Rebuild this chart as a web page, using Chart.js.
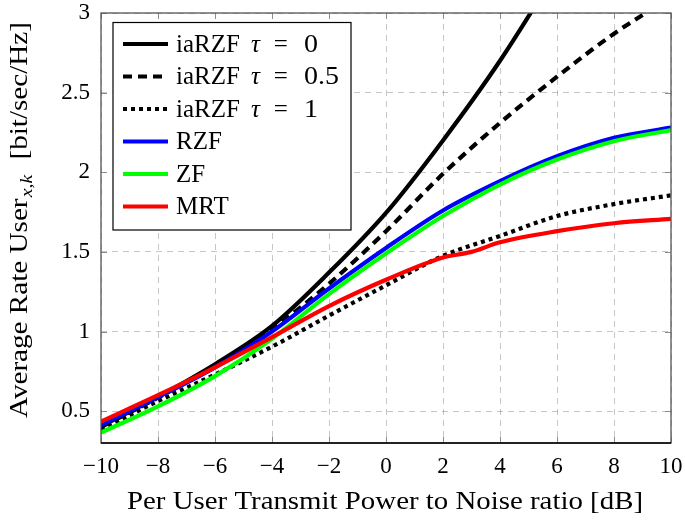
<!DOCTYPE html>
<html><head><meta charset="utf-8">
<script src="https://cdn.jsdelivr.net/npm/chart.js@4/dist/chart.umd.min.js"></script>
<style>html,body{margin:0;padding:0;background:#fff}#wrap{width:685px;height:523px}</style>
</head><body><div id="wrap"><canvas id="c" width="685" height="523"></canvas></div>
<script>
// ---- data ----
const snr = [-10, -8, -6, -4, -2, 0, 2, 4, 6, 8, 10];
const tau0 = [0.405, 0.59, 0.795, 1.035, 1.37, 1.745, 2.20, 2.70, 3.27, 3.88, 4.52];
const tau05 = [0.40, 0.585, 0.785, 1.015, 1.30, 1.63, 1.99, 2.31, 2.60, 2.87, 3.10];
const tau1 = [0.385, 0.563, 0.73, 0.905, 1.10, 1.29, 1.475, 1.60, 1.725, 1.80, 1.855];
const rzf = [0.413, 0.588, 0.775, 1.00, 1.27, 1.525, 1.76, 1.944, 2.10, 2.216, 2.28];
const zf = [0.365, 0.53, 0.72, 0.955, 1.235, 1.49, 1.725, 1.923, 2.08, 2.195, 2.265];
const mrtSnr = [-10, -8, -6, -4, -2, 0, 2, 3, 4, 6, 8, 10];
const mrt = [0.435, 0.60, 0.775, 0.965, 1.16, 1.325, 1.465, 1.50, 1.56, 1.63, 1.68, 1.707];
const seriesLabels = ['iaRZF τ = 0', 'iaRZF τ = 0.5', 'iaRZF τ = 1', 'RZF', 'ZF', 'MRT'];
const xTicks = [-10, -8, -6, -4, -2, 0, 2, 4, 6, 8, 10];
const yTicks = [0.5, 1, 1.5, 2, 2.5, 3];
const xTitle = 'Per User Transmit Power to Noise ratio [dB]';
const yTitleMain = 'Average Rate User';
const yTitleSub = 'x,k';
const yTitleUnit = '[bit/sec/Hz]';

const FONT = "'Liberation Serif', 'DejaVu Serif', serif";
const pts = (xs, ys) => xs.map((x, i) => ({x: x, y: ys[i]}));

const styles = [
  {color: '#000000', dash: []},
  {color: '#000000', dash: [9, 6]},
  {color: '#000000', dash: [4, 4]},
  {color: '#0000ff', dash: []},
  {color: '#00ff00', dash: []},
  {color: '#ff0000', dash: []}
];
const seriesData = [pts(snr, tau0), pts(snr, tau05), pts(snr, tau1), pts(snr, rzf), pts(snr, zf), pts(mrtSnr, mrt)];

const datasets = seriesData.map((d, i) => ({
  label: seriesLabels[i],
  data: d,
  borderColor: styles[i].color,
  backgroundColor: styles[i].color,
  borderDash: styles[i].dash,
  borderWidth: 4.2,
  pointRadius: 0,
  fill: false,
  cubicInterpolationMode: 'monotone',
  borderCapStyle: 'butt',
  order: 6 - i,
  clip: 0
}));

function fmtNum(v) {
  return v < 0 ? '\u2212' + Math.abs(v) : String(v);
}

const decor = {
  id: 'decor',
  afterDatasetsDraw(chart) {
    const ctx = chart.ctx;
    const a = chart.chartArea;
    const xs = chart.scales.x, ys = chart.scales.y;
    ctx.save();
    // inner tick marks
    ctx.strokeStyle = '#8c8c8c';
    ctx.lineWidth = 1;
    ctx.beginPath();
    xTicks.forEach(v => {
      const px = Math.round(xs.getPixelForValue(v)) + 0.5;
      ctx.moveTo(px, a.bottom); ctx.lineTo(px, a.bottom - 6);
      ctx.moveTo(px, a.top); ctx.lineTo(px, a.top + 6);
    });
    yTicks.forEach(v => {
      const py = Math.round(ys.getPixelForValue(v)) + 0.5;
      ctx.moveTo(a.left, py); ctx.lineTo(a.left + 6, py);
      ctx.moveTo(a.right, py); ctx.lineTo(a.right - 6, py);
    });
    ctx.stroke();
    // frame
    ctx.strokeStyle = '#555555';
    ctx.lineWidth = 1.3;
    ctx.strokeRect(a.left, a.top, a.right - a.left, a.bottom - a.top);
    ctx.strokeStyle = '#000000';
    ctx.beginPath(); ctx.moveTo(a.left, a.bottom); ctx.lineTo(a.right, a.bottom); ctx.stroke();

    // legend
    const lx = 113, ly = 22.5, lw = 238, lh = 207.5;
    ctx.fillStyle = '#ffffff';
    ctx.fillRect(lx, ly, lw, lh);
    ctx.strokeStyle = '#000000';
    ctx.lineWidth = 1.2;
    ctx.strokeRect(lx, ly, lw, lh);
    const rowY = [44, 76.5, 109, 141.5, 174, 206.5];
    chart.data.datasets.forEach((ds, i) => {
      const y = rowY[i];
      ctx.strokeStyle = ds.borderColor;
      ctx.lineWidth = 4.2;
      ctx.setLineDash(ds.borderDash);
      ctx.beginPath(); ctx.moveTo(123, y); ctx.lineTo(168, y); ctx.stroke();
      ctx.setLineDash([]);
      ctx.fillStyle = '#000';
      ctx.textBaseline = 'middle';
      ctx.textAlign = 'left';
      let x = 176;
      ds.label.split(' ').forEach(p => {
        ctx.font = (p === 'τ' ? 'italic ' : '') + '25px ' + FONT;
        const w = ctx.measureText(p).width;
        if (/^[0-9.]+$/.test(p)) {
          ctx.save(); ctx.translate(x, 0); ctx.scale(1.12, 1);
          ctx.fillText(p, 0, y + 1); ctx.restore();
        } else {
          ctx.fillText(p, x, y + 1);
        }
        x += w + (p === 'iaRZF' ? 11 : (p === 'τ' ? 14 : 16));
      });
    });

    // y title (stretched horizontally to the reference's width)
    ctx.save();
    ctx.translate(27, 220);
    ctx.rotate(-Math.PI / 2);
    ctx.fillStyle = '#000';
    ctx.textBaseline = 'alphabetic';
    ctx.textAlign = 'left';
    const fMain = '25px ' + FONT, fSub = 'italic 17px ' + FONT;
    ctx.font = fSub; const wSub = ctx.measureText(yTitleSub).width + 2;
    ctx.font = fMain;
    const wm = ctx.measureText(yTitleMain).width, wu = ctx.measureText(yTitleUnit).width;
    const gap = 12;
    const sx = 396 / (wm + wSub + gap + wu);
    ctx.translate(-198, 0);
    ctx.scale(sx, 1);
    ctx.fillText(yTitleMain, 0, 0);
    ctx.font = fSub; ctx.fillText(yTitleSub, wm + 1, 5);
    ctx.font = fMain; ctx.fillText(yTitleUnit, wm + wSub + gap, 0);
    ctx.restore();

    // x title (stretched horizontally to the reference's width)
    ctx.save();
    ctx.font = '25px ' + FONT;
    ctx.textAlign = 'left';
    ctx.textBaseline = 'alphabetic';
    ctx.fillStyle = '#000';
    const wx = ctx.measureText(xTitle).width;
    ctx.translate(127, 509);
    ctx.scale(516 / wx, 1);
    ctx.fillText(xTitle, 0, 0);
    ctx.restore();
    ctx.restore();
  }
};

new Chart(document.getElementById('c'), {
  type: 'line',
  data: {datasets: datasets},
  options: {
    responsive: false,
    animation: false,
    layout: {autoPadding: false, padding: {left: 0, right: 14, top: 13, bottom: 0}},
    plugins: {legend: {display: false}, tooltip: {enabled: false}},
    scales: {
      x: {
        type: 'linear', min: -10, max: 10,
        afterBuildTicks: s => { s.ticks = xTicks.map(v => ({value: v})); },
        afterFit: s => { s.height = 80; s.paddingLeft = 0; s.paddingRight = 0; },
        grid: {color: 'rgba(0,0,0,0.22)', lineWidth: 1, drawTicks: false},
        border: {display: false, dash: [6, 5]},
        ticks: {padding: 10, color: '#000', font: {family: FONT, size: 23}, maxRotation: 0, autoSkip: false,
          callback: v => fmtNum(v)}
      },
      y: {
        type: 'linear', min: 0.3, max: 3,
        afterBuildTicks: s => { s.ticks = yTicks.map(v => ({value: v})); },
        afterFit: s => { s.width = 101; s.paddingTop = 0; s.paddingBottom = 0; },
        grid: {color: 'rgba(0,0,0,0.22)', lineWidth: 1, drawTicks: false},
        border: {display: false, dash: [6, 5]},
        ticks: {padding: 11, color: '#000', font: {family: FONT, size: 23}, autoSkip: false,
          callback: v => fmtNum(v)}
      }
    }
  },
  plugins: [decor]
});
</script>
</body></html>
